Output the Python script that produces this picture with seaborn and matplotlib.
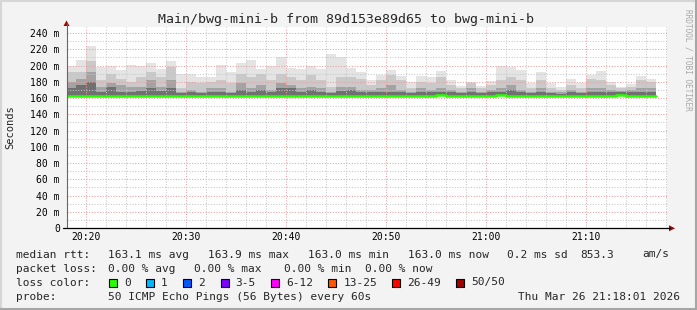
import numpy as np
import pandas as pd
import matplotlib
matplotlib.use("Agg")
import matplotlib.pyplot as plt
import seaborn as sns
from matplotlib.patches import Polygon, Rectangle
from matplotlib.lines import Line2D
from matplotlib.transforms import Affine2D

# ---------------- data ----------------
title = "Main/bwg-mini-b from 89d153e89d65 to bwg-mini-b"
start_minute = 18          # first column = 20:18
smoke_floor = 162.6        # min ping (ms)

smoke_max = [200, 207, 224, 198, 200, 194, 201, 199, 203, 196, 205, 190, 190, 186, 186,
             201, 192, 203, 207, 196, 199, 210, 197, 196, 199, 196, 214, 211, 197, 192,
             182, 188, 194, 187, 180, 187, 186, 193, 182, 175, 180, 175, 181, 200, 198,
             194, 178, 192, 179, 174, 183, 178, 188, 193, 180, 174, 177, 187, 183]
smoke_l2 = [192, 192, 205, 182, 190, 184, 180, 186, 192, 186, 198, 172, 180, 178, 180,
            182, 178, 190, 186, 190, 182, 190, 186, 182, 188, 182, 174, 186, 186, 184,
            176, 182, 188, 182, 172, 180, 178, 186, 176, 172, 178, 172, 176, 182, 186,
            182, 172, 182, 172, 170, 176, 172, 184, 182, 176, 172, 174, 182, 180]
smoke_l3 = [180, 184, 192, 174, 178, 176, 174, 174, 182, 174, 182, 168, 170, 168, 172,
            172, 168, 178, 172, 176, 170, 178, 176, 172, 174, 172, 168, 174, 174, 170,
            170, 172, 176, 170, 168, 172, 170, 172, 170, 168, 172, 168, 170, 172, 176,
            170, 168, 172, 168, 167, 170, 168, 172, 172, 170, 169, 170, 172, 172]
smoke_l4 = [172, 176, 180, 168, 174, 168, 168, 169, 172, 169, 172, 166, 167, 166, 167,
            167, 166, 170, 168, 170, 167, 172, 172, 168, 170, 168, 166, 169, 170, 167,
            167, 168, 168, 167, 166, 167, 167, 167, 167, 166, 168, 166, 167, 167, 170,
            167, 166, 168, 166, 165, 167, 166, 168, 167, 167, 167, 167, 168, 168]
median_rtt = [163.0] * 37 + [164.2] + [163.0] * 5 + [164.2] + [163.0] * 11 + [164.2] + [163.0] * 3

y_ticks = [0, 20, 40, 60, 80, 100, 120, 140, 160, 180, 200, 220, 240]
y_tick_labels = ["0", "20 m", "40 m", "60 m", "80 m", "100 m", "120 m", "140 m",
                 "160 m", "180 m", "200 m", "220 m", "240 m"]
x_ticks = [20, 30, 40, 50, 60, 70]
x_tick_labels = ["20:20", "20:30", "20:40", "20:50", "21:00", "21:10"]

rtt_line = [("median rtt:", 16), ("163.1 ms avg", 107.5), ("163.9 ms max", 208),
            ("163.0 ms min", 308), ("163.0 ms now", 408), ("0.2 ms sd", 507),
            ("853.3", 580), ("am/s", 642)]
loss_line = [("packet loss:", 16), ("0.00 % avg", 107.5), ("0.00 % max", 194),
             ("0.00 % min", 284), ("0.00 % now", 365)]
loss_labels = ["0", "1", "2", "3-5", "6-12", "13-25", "26-49", "50/50"]
loss_colors = ["#26ff00", "#00b8ff", "#0059ff", "#7e00ff", "#ff00ff", "#ff5500", "#ff0000", "#a00000"]
probe_text = "50 ICMP Echo Pings (56 Bytes) every 60s"
stamp_text = "Thu Mar 26 21:18:01 2026"

# ---------------- style ----------------
W, H = 697, 310
sns.set_style("white")
plt.rcParams["font.family"] = ["DejaVu Sans Mono", "DejaVu Sans"]

fig = plt.figure(figsize=(W / 100, H / 100), dpi=100, facecolor="#f3f3f3")
pxt = Affine2D().scale(1 / W, -1 / H).translate(0, 1) + fig.transFigure

L, R, T, B = 66.5, 667, 27, 228
ax = fig.add_axes([L / W, 1 - B / H, (R - L) / W, (B - T) / H])
ax.set_facecolor("white")

n = len(smoke_max)
minute = start_minute + np.arange(n)

shades = ["#e4e4e4", "#c9c9c9", "#a3a3a3", "#707070"]
for lv, c in zip([smoke_max, smoke_l2, smoke_l3, smoke_l4], shades):
    ax.bar(minute, np.array(lv) - smoke_floor, bottom=smoke_floor, width=1.0,
           align="edge", color=c, linewidth=0, antialiased=False, zorder=1)

df = pd.DataFrame({"minute": np.r_[minute, minute[-1] + 1],
                   "rtt": np.r_[median_rtt, median_rtt[-1]]})
sns.lineplot(data=df, x="minute", y="rtt", drawstyle="steps-post", color="#26ff00",
             linewidth=1.8, ax=ax, legend=False, zorder=3)

ax.set_xlim(18.1, 78.1)
ax.set_ylim(0, 247.4)
ax.set_yticks(y_ticks)
ax.set_yticklabels(y_tick_labels)
ax.set_yticks(np.arange(10, 247, 20), minor=True)
ax.set_xticks(x_ticks)
ax.set_xticklabels(x_tick_labels)
ax.set_xticks(np.arange(18, 79, 2), minor=True)
ax.set_xlabel("")
ax.set_ylabel("")
ax.tick_params(which="both", length=0)
ax.tick_params(axis="y", labelsize=7, pad=4.8, colors="#000000")
ax.tick_params(axis="x", labelsize=7, pad=3.2, colors="#000000")
ax.set_axisbelow(False)
ax.grid(which="major", color="#eaa0a0", linestyle=(0, (1, 1.6)), linewidth=0.75)
ax.grid(which="minor", color="#c6c6c6", linestyle=(0, (1, 1.6)), linewidth=0.75)
for s in ax.spines.values():
    s.set_visible(False)

# axes lines with arrows
fig.add_artist(Line2D([66.5, 66.5], [228, 23], color="#666666", linewidth=0.8, transform=pxt))
fig.add_artist(Line2D([63, 670], [228.3, 228.3], color="#000000", linewidth=0.9, transform=pxt))
fig.add_artist(Polygon([[63.5, 26], [69.5, 26], [66.5, 20.5]], closed=True,
                       facecolor="#a00000", edgecolor="none", transform=pxt))
fig.add_artist(Polygon([[669, 225.3], [669, 231.3], [675, 228.3]], closed=True,
                       facecolor="#a00000", edgecolor="none", transform=pxt))

# texts
fig.text(346, 19, title, transform=pxt, ha="center", va="center", fontsize=9.5)
fig.text(10, 127.5, "Seconds", transform=pxt, ha="center", va="center", fontsize=7.5, rotation=90)
fig.text(688, 60, "RRDTOOL / TOBI OETIKER", transform=pxt, ha="center", va="center",
         fontsize=5.6, rotation=270, color="#a8a8a8")

for txt, x in rtt_line:
    fig.text(x, 254.5, txt, transform=pxt, ha="left", va="center", fontsize=8)
for txt, x in loss_line:
    fig.text(x, 268.5, txt, transform=pxt, ha="left", va="center", fontsize=8)

fig.text(16, 282.5, "loss color:", transform=pxt, ha="left", va="center", fontsize=8)
cw = 6.69
sx = 109
for lab, col in zip(loss_labels, loss_colors):
    fig.add_artist(Rectangle((sx, 278.5), 8, 8, facecolor=col, edgecolor="#000000",
                             linewidth=0.8, transform=pxt))
    fig.text(sx + 15, 282.5, lab, transform=pxt, ha="left", va="center", fontsize=8)
    sx = sx + 15 + len(lab) * cw + 15.5

fig.text(16, 296.5, "probe:", transform=pxt, ha="left", va="center", fontsize=8)
fig.text(107.5, 296.5, probe_text, transform=pxt, ha="left", va="center", fontsize=8)
fig.text(680, 296.5, stamp_text, transform=pxt, ha="right", va="center", fontsize=8)

# frame
fig.add_artist(Line2D([0, W], [0.8, 0.8], color="#d6d6d6", linewidth=1.5, transform=pxt))
fig.add_artist(Line2D([0.8, 0.8], [0, H], color="#d6d6d6", linewidth=1.5, transform=pxt))
fig.add_artist(Line2D([0, W], [H - 0.8, H - 0.8], color="#a6a6a6", linewidth=1.5, transform=pxt))
fig.add_artist(Line2D([W - 0.8, W - 0.8], [0, H], color="#a6a6a6", linewidth=1.5, transform=pxt))

fig.savefig("out.png", dpi=100, facecolor=fig.get_facecolor())
